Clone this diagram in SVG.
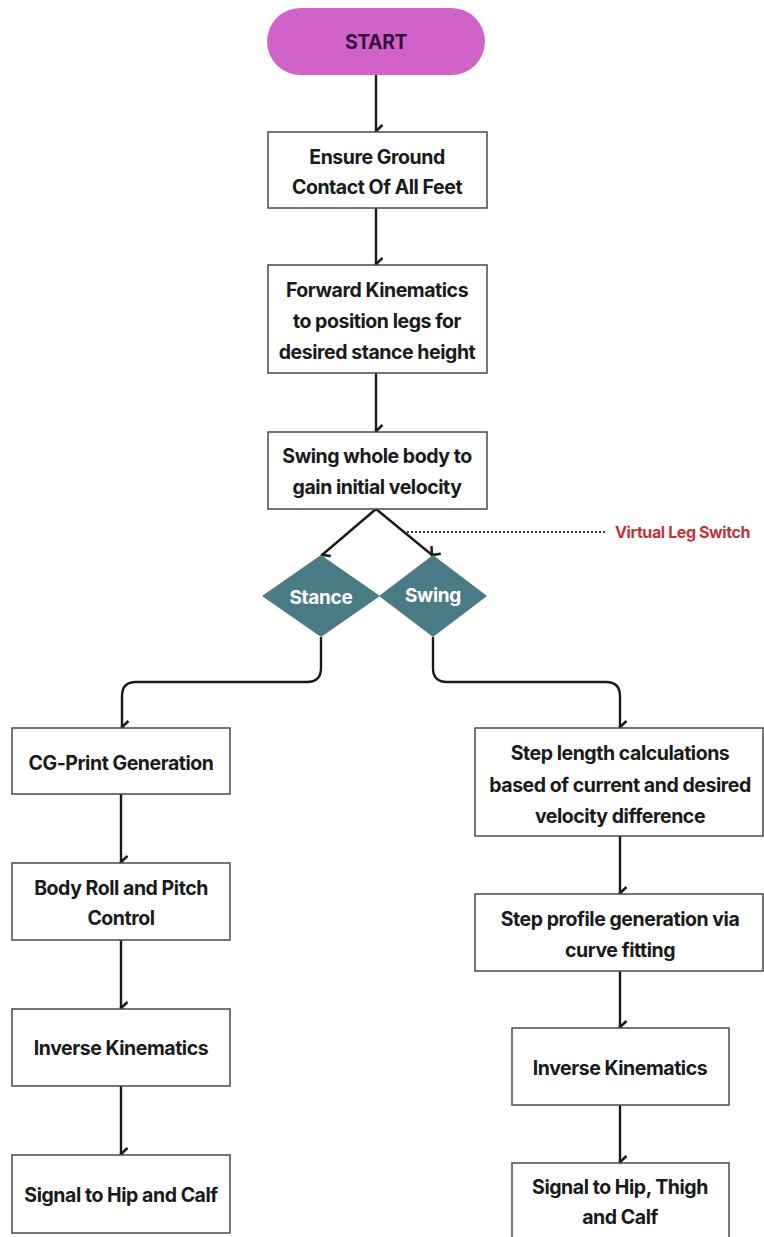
<svg xmlns="http://www.w3.org/2000/svg" width="764" height="1237" viewBox="0 0 764 1237">
<defs>
<marker id="arr" markerWidth="16" markerHeight="16" refX="8" refY="14" orient="auto-start-reverse" markerUnits="userSpaceOnUse" viewBox="0 0 16 16">
<path d="M2,7.5 L8,14 L14,7.5" fill="none" stroke="#1a1a1a" stroke-width="2.5" stroke-linejoin="miter"/>
</marker>
<style>
.box{fill:#fff;stroke:#4a4a4a;stroke-width:1.5}
.t{font-family:Inter,"Liberation Sans",sans-serif;font-weight:700;font-size:19.5px;fill:#1a1a1a;text-anchor:middle;dominant-baseline:central;letter-spacing:-0.45px}
.c{fill:none;stroke:#1a1a1a;stroke-width:2.4}
.dia{fill:#4b7b86}
.dt{font-family:Inter,"Liberation Sans",sans-serif;font-weight:700;font-size:19px;fill:#fff;text-anchor:middle;dominant-baseline:central;letter-spacing:-0.3px}
</style>
</defs>
<rect width="764" height="1237" fill="#fff"/>
<g id="connectors">
<line class="c" x1="376" y1="75" x2="376" y2="131" marker-end="url(#arr)"/>
<line class="c" x1="376" y1="208" x2="376" y2="264" marker-end="url(#arr)"/>
<line class="c" x1="376" y1="373" x2="376" y2="431" marker-end="url(#arr)"/>
<line class="c" x1="376" y1="509" x2="322" y2="555" marker-end="url(#arr)"/>
<line class="c" x1="376" y1="509" x2="432" y2="555" marker-end="url(#arr)"/>
<path class="c" d="M321,637 V668 Q321,682 307,682 H136 Q122,682 122,696 V727" marker-end="url(#arr)"/>
<path class="c" d="M433,637 V668 Q433,682 447,682 H606 Q620,682 620,696 V727" marker-end="url(#arr)"/>
<line class="c" x1="121" y1="794" x2="121" y2="862" marker-end="url(#arr)"/>
<line class="c" x1="121" y1="940" x2="121" y2="1008" marker-end="url(#arr)"/>
<line class="c" x1="121" y1="1086" x2="121" y2="1154" marker-end="url(#arr)"/>
<line class="c" x1="620" y1="836" x2="620" y2="893" marker-end="url(#arr)"/>
<line class="c" x1="620" y1="971" x2="620" y2="1027" marker-end="url(#arr)"/>
<line class="c" x1="620" y1="1105" x2="620" y2="1162" marker-end="url(#arr)"/>
<line x1="407" y1="532" x2="605" y2="532" stroke="#333" stroke-width="2" stroke-dasharray="2,2"/>
</g>
<g id="start">
<rect x="267" y="8" width="218" height="67" rx="33.5" fill="#d163c8"/>
<text class="t" x="376" y="42" style="fill:#3a0d3a">START</text>
</g>
<g id="ensure">
<rect class="box" x="268" y="132" width="219" height="76"/>
<text class="t" x="377" y="157">Ensure Ground</text>
<text class="t" x="377" y="187">Contact Of All Feet</text>
</g>
<g id="forward">
<rect class="box" x="268" y="265" width="219" height="108"/>
<text class="t" x="377" y="290">Forward Kinematics</text>
<text class="t" x="377" y="321">to position legs for</text>
<text class="t" x="377" y="352">desired stance height</text>
</g>
<g id="swingbody">
<rect class="box" x="268" y="432" width="219" height="77"/>
<text class="t" x="377" y="456">Swing whole body to</text>
<text class="t" x="377" y="487">gain initial velocity</text>
</g>
<g id="stance">
<polygon class="dia" points="321,555 380,596 321,637 262,596"/>
<text class="dt" x="321" y="597">Stance</text>
</g>
<g id="swing">
<polygon class="dia" points="433,555 487,596 433,637 379,596"/>
<text class="dt" x="433" y="595">Swing</text>
</g>
<g id="virtual-label">
<text x="615" y="532" font-family="Inter,'Liberation Sans',sans-serif" font-weight="700" font-size="16" fill="#c0353d" dominant-baseline="central" letter-spacing="-0.4">Virtual Leg Switch</text>
</g>
<g id="cgprint">
<rect class="box" x="12" y="728" width="218" height="66"/>
<text class="t" x="121" y="763">CG-Print Generation</text>
</g>
<g id="bodyroll">
<rect class="box" x="12" y="863" width="218" height="77"/>
<text class="t" x="121" y="888">Body Roll and Pitch</text>
<text class="t" x="121" y="918">Control</text>
</g>
<g id="ik-left">
<rect class="box" x="12" y="1009" width="218" height="77"/>
<text class="t" x="121" y="1048">Inverse Kinematics</text>
</g>
<g id="signal-left">
<rect class="box" x="12" y="1155" width="218" height="78"/>
<text class="t" x="121" y="1195">Signal to Hip and Calf</text>
</g>
<g id="steplength">
<rect class="box" x="475" y="728" width="288" height="108"/>
<text class="t" x="620" y="753">Step length calculations</text>
<text class="t" x="620" y="785">based of current and desired</text>
<text class="t" x="620" y="816">velocity difference</text>
</g>
<g id="stepprofile">
<rect class="box" x="475" y="894" width="288" height="77"/>
<text class="t" x="620" y="919">Step profile generation via</text>
<text class="t" x="620" y="950">curve fitting</text>
</g>
<g id="ik-right">
<rect class="box" x="512" y="1028" width="217" height="77"/>
<text class="t" x="620" y="1068">Inverse Kinematics</text>
</g>
<g id="signal-right">
<rect class="box" x="512" y="1163" width="217" height="80"/>
<text class="t" x="620" y="1187">Signal to Hip, Thigh</text>
<text class="t" x="620" y="1217">and Calf</text>
</g>
</svg>
